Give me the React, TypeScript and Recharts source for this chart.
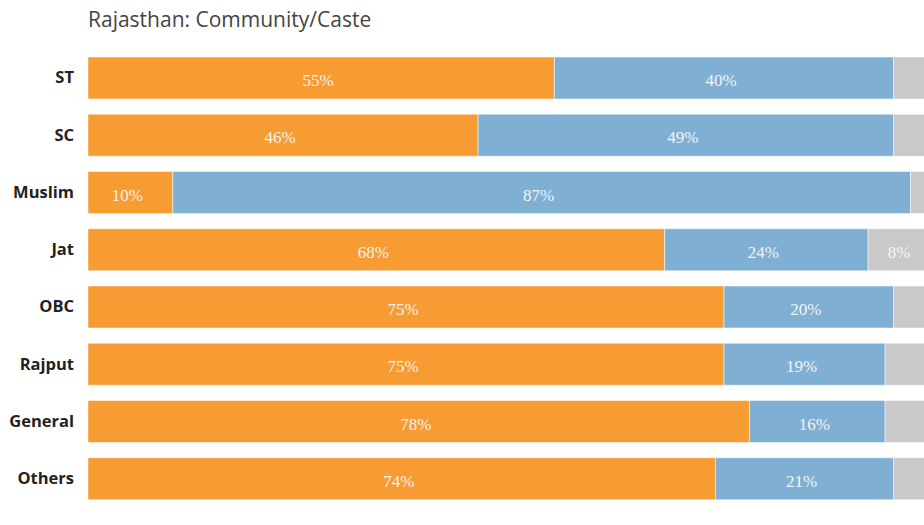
import { Bar, BarChart, LabelList, XAxis, YAxis } from 'recharts';

const groups = ['ST', 'SC', 'Muslim', 'Jat', 'OBC', 'Rajput', 'General', 'Others'];
const orangeShare = [55, 46, 10, 68, 75, 75, 78, 74];
const blueShare = [40, 49, 87, 24, 20, 19, 16, 21];
const greyShare = [5, 5, 3, 8, 5, 6, 6, 5];

const data = groups.map((name, i) => ({
    name,
    orange: orangeShare[i],
    blue: blueShare[i],
    grey: greyShare[i],
}));

const labelStyle = {
    fill: '#f4f4f4',
    fontFamily: '"Liberation Serif", "DejaVu Serif", serif',
    fontSize: 17,
};

const pct = (v: any) => `${v}%`;
const pctBig = (v: any) => (Number(v) >= 8 ? `${v}%` : '');

export default function App() {
    return (
        <div style={{ position: 'absolute', left: 0, top: 0, width: 924, height: 525, overflow: 'hidden', background: '#fff' }}>
            <div
                style={{
                    position: 'absolute',
                    left: 88,
                    top: 5,
                    fontFamily: '"Open Sans", sans-serif',
                    fontSize: 21,
                    color: '#444',
                    whiteSpace: 'nowrap',
                }}
            >
                Rajasthan: Community/Caste
            </div>
            <BarChart
                width={936}
                height={525}
                data={data}
                layout="vertical"
                margin={{ top: 49, right: 0, bottom: 18, left: 0 }}
                barSize={42}
            >
                <XAxis type="number" domain={[0, 100]} hide />
                <YAxis
                    type="category"
                    dataKey="name"
                    width={88}
                    axisLine={false}
                    tickLine={false}
                    tickMargin={8}
                    tick={{ fill: '#222', fontSize: 16.5, fontWeight: 700, fontFamily: '"Open Sans", sans-serif' }}
                />
                <Bar dataKey="orange" stackId="a" fill="#f79b33" stroke="#ffffff" strokeOpacity={0.5} isAnimationActive={false}>
                    <LabelList dataKey="orange" position="center" formatter={pct} style={labelStyle} dx={-3} dy={2} />
                </Bar>
                <Bar dataKey="blue" stackId="a" fill="#7fb0d3" stroke="#ffffff" strokeOpacity={0.5} isAnimationActive={false}>
                    <LabelList dataKey="blue" position="center" formatter={pct} style={labelStyle} dx={-3} dy={2} />
                </Bar>
                <Bar dataKey="grey" stackId="a" fill="#c9c9c9" stroke="#ffffff" strokeOpacity={0.5} isAnimationActive={false}>
                    <LabelList dataKey="grey" position="center" formatter={pctBig} style={labelStyle} dx={-3} dy={2} />
                </Bar>
            </BarChart>
        </div>
    );
}
